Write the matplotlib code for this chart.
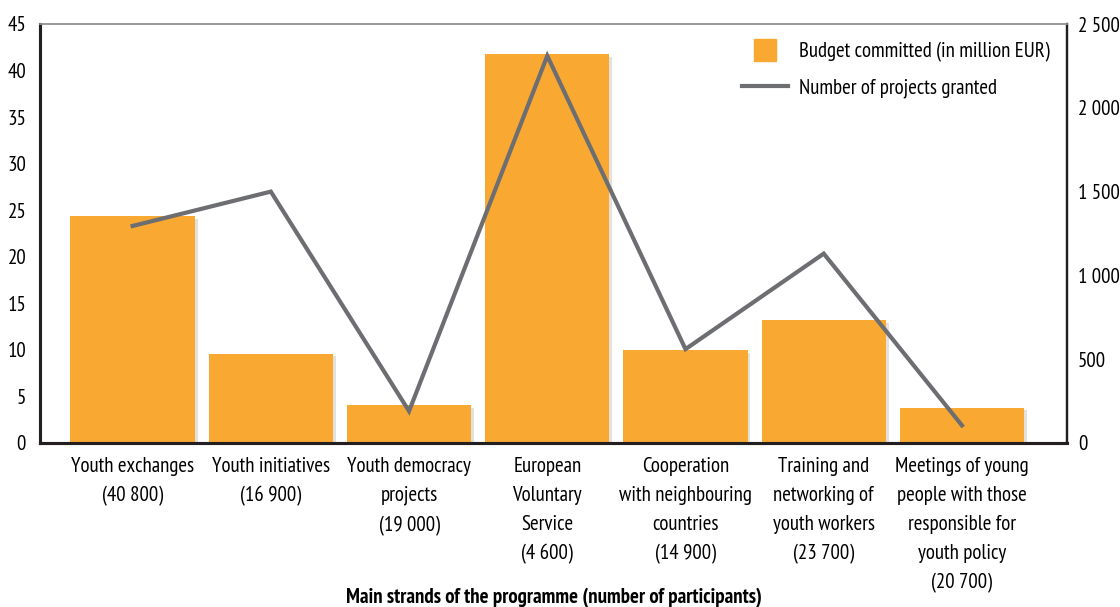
import numpy as np
import matplotlib
matplotlib.use("Agg")
import matplotlib.pyplot as plt
import matplotlib.ticker as ticker
import matplotlib.patheffects as pe
from matplotlib.lines import Line2D

plt.rcParams["font.family"] = ["PT Sans Narrow", "Open Sans Condensed", "DejaVu Sans"]

categories = [
    "Youth exchanges\n(40 800)",
    "Youth initiatives\n(16 900)",
    "Youth democracy\nprojects\n(19 000)",
    "European\nVoluntary\nService\n(4 600)",
    "Cooperation\nwith neighbouring\ncountries\n(14 900)",
    "Training and\nnetworking of\nyouth workers\n(23 700)",
    "Meetings of young\npeople with those\nresponsible for\nyouth policy\n(20 700)",
]
budget = [24.4, 9.6, 4.1, 41.8, 10.0, 13.2, 3.8]
projects = [1295, 1500, 190, 2310, 560, 1130, 105]

BAR_COLOR = "#F9A932"
LINE_COLOR = "#6D6E71"
FS = 15

fig = plt.figure(figsize=(11.2, 6.07), dpi=100)
ax = fig.add_axes([40 / 1120, 1 - 443 / 607, 1027 / 1120, 419 / 607])
ax2 = ax.twinx()

x = np.arange(len(categories))
bars = ax.bar(x, budget, width=0.9, color=BAR_COLOR, zorder=2)
for b in bars:
    b.set_path_effects([pe.SimplePatchShadow(offset=(2, -2), alpha=0.15), pe.Normal()])

ax2.plot(x, projects, color=LINE_COLOR, lw=3, zorder=3, solid_joinstyle="miter")

ax.set_xlim(-0.67, 6.76)
ax.set_ylim(0, 45)
ax2.set_ylim(0, 2500)
ax.set_yticks(np.arange(0, 46, 5))
ax2.set_yticks(np.arange(0, 2501, 500))
ax2.yaxis.set_major_formatter(ticker.FuncFormatter(
    lambda v, p: f"{int(v):,}".replace(",", " ")))

ax.set_xticks(x)
ax.set_xticklabels(categories, fontsize=FS, linespacing=1.66, va="top")
ax.tick_params(axis="x", length=0, pad=10)
ax.tick_params(axis="y", length=0, labelsize=FS, pad=10)
ax2.tick_params(axis="y", length=0, labelsize=FS, pad=8)

for a in (ax, ax2):
    a.spines["top"].set_color("#999999")
    a.spines["top"].set_linewidth(1.2)
    a.spines["left"].set_color("#231F20")
    a.spines["left"].set_linewidth(2.2)
    a.spines["bottom"].set_color("#231F20")
    a.spines["bottom"].set_linewidth(2.2)
    a.spines["right"].set_color("#231F20")
    a.spines["right"].set_linewidth(1.6)

ax.set_zorder(ax2.get_zorder() - 1)
ax2.patch.set_visible(False)

fig.text(0.5 * (40 + 1067) / 1120, 1 - 598 / 607,
         "Main strands of the programme (number of participants)",
         ha="center", va="center", fontsize=FS, fontweight="bold")

handles = [Line2D([0], [0], marker="s", markersize=16, color=BAR_COLOR, lw=0),
           Line2D([0], [0], color=LINE_COLOR, lw=3)]
labels = ["Budget committed (in million EUR)", "Number of projects granted"]
ax2.legend(handles, labels, loc="upper right", frameon=False, fontsize=FS,
           handlelength=2.2, handletextpad=0.5, borderaxespad=0.45, labelspacing=0.8)

fig.savefig("out.png", dpi=100)
